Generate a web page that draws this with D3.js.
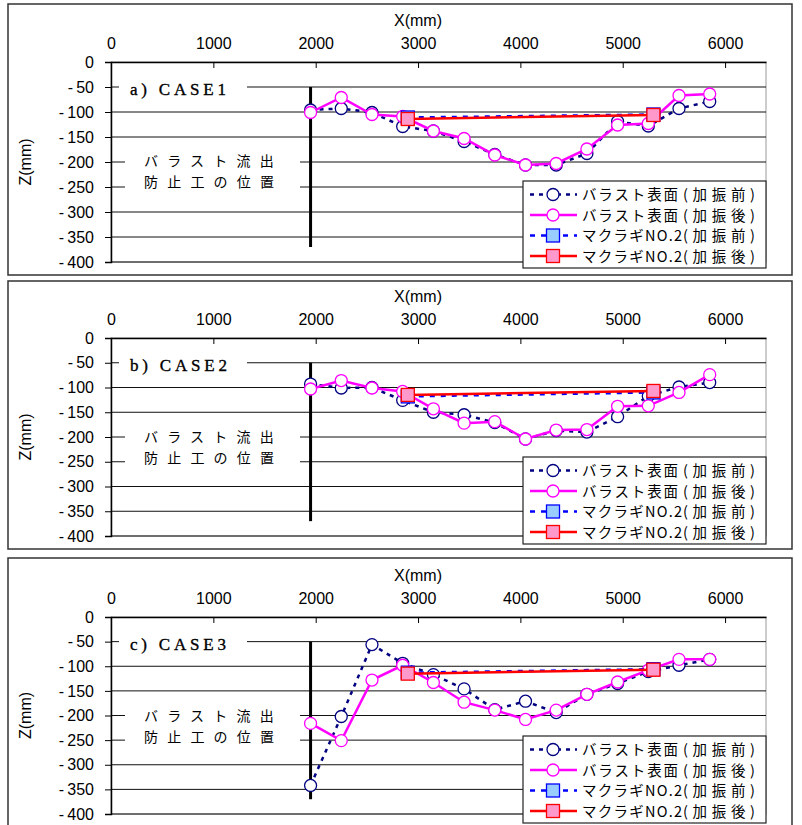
<!DOCTYPE html>
<html>
<head>
<meta charset="utf-8">
<script src="https://cdn.jsdelivr.net/npm/d3@7"></script>
<style>
  body { margin: 0; background: #fff; }
  svg { display: block; }
  text { font-family: "Liberation Sans", Arial, sans-serif; fill: #000; }
  .jp { font-family: "Noto Sans CJK JP", "Noto Sans", sans-serif; }
  .serif { font-family: "Liberation Serif", "DejaVu Serif", serif; }
</style>
</head>
<body>
<svg id="chart" width="802" height="825"></svg>
<script>
// measuring points along the track (mm)
var xPos = [1950, 2250, 2550, 2850, 3150, 3450, 3750, 4050, 4350, 4650, 4950, 5250, 5550, 5850];

// ballast surface before / after shaking (mm)
var case1Before = [-96, -93, -101, -129, -138, -159, -185, -206, -206, -183, -119, -128, -93, -79];
var case1After  = [-101, -71, -105, -109, -138, -153, -186, -206, -203, -174, -126, -123, -67, -64];
var case2Before = [-93, -101, -100, -126, -150, -155, -171, -204, -187, -190, -159, -117, -99, -90];
var case2After  = [-103, -86, -101, -108, -143, -172, -169, -204, -186, -185, -138, -137, -110, -74];
var case3Before = [-342, -202, -56, -94, -117, -146, -188, -171, -194, -157, -135, -111, -98, -86];
var case3After  = [-216, -251, -128, -98, -133, -173, -189, -208, -189, -157, -132, -108, -86, -86];

// sleeper NO.2 ends
var sleeperX = [2900, 5300];
var case1SleeperBefore = [-111, -105];
var case1SleeperAfter  = [-114, -106];
var case2SleeperBefore = [-118, -110];
var case2SleeperAfter  = [-115, -107];
var case3SleeperBefore = [-113, -106];
var case3SleeperAfter  = [-115, -107];

// ballast stopper position
var stopperX = 1950;
var stopperZ = [-50, -370];

var xTicks = [0, 1000, 2000, 3000, 4000, 5000, 6000];
var yTicks = [0, -50, -100, -150, -200, -250, -300, -350, -400];
var panelLabels = ["a) CASE1", "b) CASE2", "c) CASE3"];
var legendNames = ["バラスト表面", "バラスト表面", "マクラギNO.2", "マクラギNO.2"];
var legendStates = ["(加振前)", "(加振後)", "(加振前)", "(加振後)"];
var stopperText = ["バラスト流出", "防止工の位置"];

var cases = [
    { before: case1Before, after: case1After, sBefore: case1SleeperBefore, sAfter: case1SleeperAfter },
    { before: case2Before, after: case2After, sBefore: case2SleeperBefore, sAfter: case2SleeperAfter },
    { before: case3Before, after: case3After, sBefore: case3SleeperBefore, sAfter: case3SleeperAfter }
];

// panel frames: outer box and plot area
var panels = [
    { top: 4,   bottom: 275, plotTop: 62,  plotBottom: 262 },
    { top: 281, bottom: 549, plotTop: 338, plotBottom: 536 },
    { top: 558, bottom: 827, plotTop: 617, plotBottom: 814 }
];

var styles = [
    { color: "#000080", dash: "4,5", marker: "circle", fill: "#fff" },
    { color: "#ff00ff", dash: null,  marker: "circle", fill: "#fff" },
    { color: "#0000ff", dash: "5,6", marker: "square", fill: "#99ccff" },
    { color: "#ff0000", dash: null,  marker: "square", fill: "#ff99cc" }
];

var svg = d3.select("#chart");
var left = 111, right = 766;
var x = d3.scaleLinear().domain([0, 6400]).range([left, right]);

function drawMarker(g, kind, cx, cy, st) {
    if (kind === "circle") {
        g.append("circle").attr("cx", cx).attr("cy", cy).attr("r", 6)
            .style("fill", st.fill).style("stroke", st.color).style("stroke-width", 1.3);
    } else {
        g.append("rect").attr("x", cx - 6.5).attr("y", cy - 6.5).attr("width", 13).attr("height", 13)
            .style("fill", st.fill).style("stroke", st.color).style("stroke-width", 1.3);
    }
}

panels.forEach(function (p, k) {
    var c = cases[k];
    var y = d3.scaleLinear().domain([0, -400]).range([p.plotTop, p.plotBottom]);
    var g = svg.append("g");

    g.append("rect")
        .attr("x", 8).attr("y", p.top)
        .attr("width", 784).attr("height", p.bottom - p.top)
        .style("fill", "#fff").style("stroke", "#333").style("stroke-width", 1.5);

    // plot area
    g.append("rect")
        .attr("x", left).attr("y", p.plotTop)
        .attr("width", right - left).attr("height", p.plotBottom - p.plotTop)
        .style("fill", "#fff").style("stroke", "#999").style("stroke-width", 1);

    // horizontal grid
    g.selectAll(".grid").data(yTicks.slice(1)).enter().append("line")
        .attr("x1", left).attr("x2", right)
        .attr("y1", function (d) { return y(d); })
        .attr("y2", function (d) { return y(d); })
        .style("stroke", "#111").style("stroke-width", 1);

    // y axis (ticks outward)
    var yAxis = d3.axisLeft(y).tickValues(yTicks).tickSize(6).tickPadding(11)
        .tickFormat(function (d) { return d === 0 ? "0" : "-\u2009" + Math.abs(d); });
    var ya = g.append("g").attr("transform", "translate(" + left + ",0)").call(yAxis);
    ya.select(".domain").style("stroke", "#000").style("stroke-width", 1.5);
    ya.selectAll("line").style("stroke", "#000");
    ya.selectAll("text").style("font-size", "16px").style("font-family", "'Liberation Sans', Arial, sans-serif");

    // x axis on top (ticks inward)
    var xAxis = d3.axisTop(x).tickValues(xTicks).tickSize(-6).tickPadding(13).tickSizeOuter(0)
        .tickFormat(d3.format("d"));
    var xa = g.append("g").attr("transform", "translate(0," + p.plotTop + ")").call(xAxis);
    xa.select(".domain").style("stroke", "#000").style("stroke-width", 1.5);
    xa.selectAll("line").style("stroke", "#000");
    xa.selectAll("text").style("font-size", "16px").style("font-family", "'Liberation Sans', Arial, sans-serif");

    g.append("text").attr("x", 418).attr("y", p.plotTop - 36)
        .attr("text-anchor", "middle").style("font-size", "16px").text("X(mm)");
    g.append("text")
        .attr("transform", "translate(31," + ((p.plotTop + p.plotBottom) / 2) + ") rotate(-90)")
        .attr("text-anchor", "middle").style("font-size", "16px").text("Z(mm)");

    // case label
    g.append("rect").attr("x", 119).attr("y", p.plotTop + 15).attr("width", 128).attr("height", 24).style("fill", "#fff");
    g.append("text").attr("class", "serif").attr("x", 130).attr("y", p.plotTop + 33)
        .style("font-size", "17px").style("letter-spacing", "3.8px")
        .style("stroke", "#000").style("stroke-width", 0.35)
        .text(panelLabels[k]);

    // stopper note
    g.append("rect").attr("x", 125).attr("y", p.plotTop + 84).attr("width", 175).attr("height", 48).style("fill", "#fff");
    stopperText.forEach(function (t, i) {
        g.append("text").attr("class", "jp").attr("x", 144).attr("y", p.plotTop + 104 + i * 20.5)
            .style("font-size", "14px").style("letter-spacing", "9.2px").text(t);
    });

    // stopper line
    g.append("line")
        .attr("x1", x(stopperX)).attr("x2", x(stopperX))
        .attr("y1", y(stopperZ[0])).attr("y2", y(stopperZ[1]))
        .style("stroke", "#000").style("stroke-width", 3);

    var series = [
        { xs: xPos, zs: c.before },
        { xs: xPos, zs: c.after },
        { xs: sleeperX, zs: c.sBefore },
        { xs: sleeperX, zs: c.sAfter }
    ];
    var line = d3.line().x(function (d) { return x(d[0]); }).y(function (d) { return y(d[1]); });

    series.forEach(function (s, i) {
        var st = styles[i];
        var pts = d3.zip(s.xs, s.zs);
        var sg = g.append("g");
        sg.append("path").datum(pts).attr("d", line)
            .style("fill", "none").style("stroke", st.color).style("stroke-width", 2.5)
            .style("stroke-dasharray", st.dash);
        pts.forEach(function (d) { drawMarker(sg, st.marker, x(d[0]), y(d[1]), st); });
    });

    // legend
    var lx = 523, ly = p.plotTop + 119;
    var lg = g.append("g");
    lg.append("rect").attr("x", lx).attr("y", ly).attr("width", right - lx).attr("height", 87)
        .style("fill", "#fff").style("stroke", "#222").style("stroke-width", 1.2);
    legendNames.forEach(function (name, i) {
        var st = styles[i];
        var cy = ly + 13.5 + i * 20.5;
        lg.append("line").attr("x1", lx + 7).attr("x2", lx + 54).attr("y1", cy).attr("y2", cy)
            .style("stroke", st.color).style("stroke-width", 2.5).style("stroke-dasharray", st.dash);
        drawMarker(lg, st.marker, lx + 30, cy, st);
        var t = lg.append("text").attr("class", "jp").attr("y", cy + 5.5).style("font-size", "14.5px");
        t.append("tspan").attr("x", lx + 59).attr("textLength", i < 2 ? 96 : 100)
            .attr("lengthAdjust", "spacing").text(name);
        t.append("tspan").attr("x", lx + 160).attr("textLength", 72)
            .attr("lengthAdjust", "spacing").text(legendStates[i]);
    });
});
</script>
</body>
</html>
